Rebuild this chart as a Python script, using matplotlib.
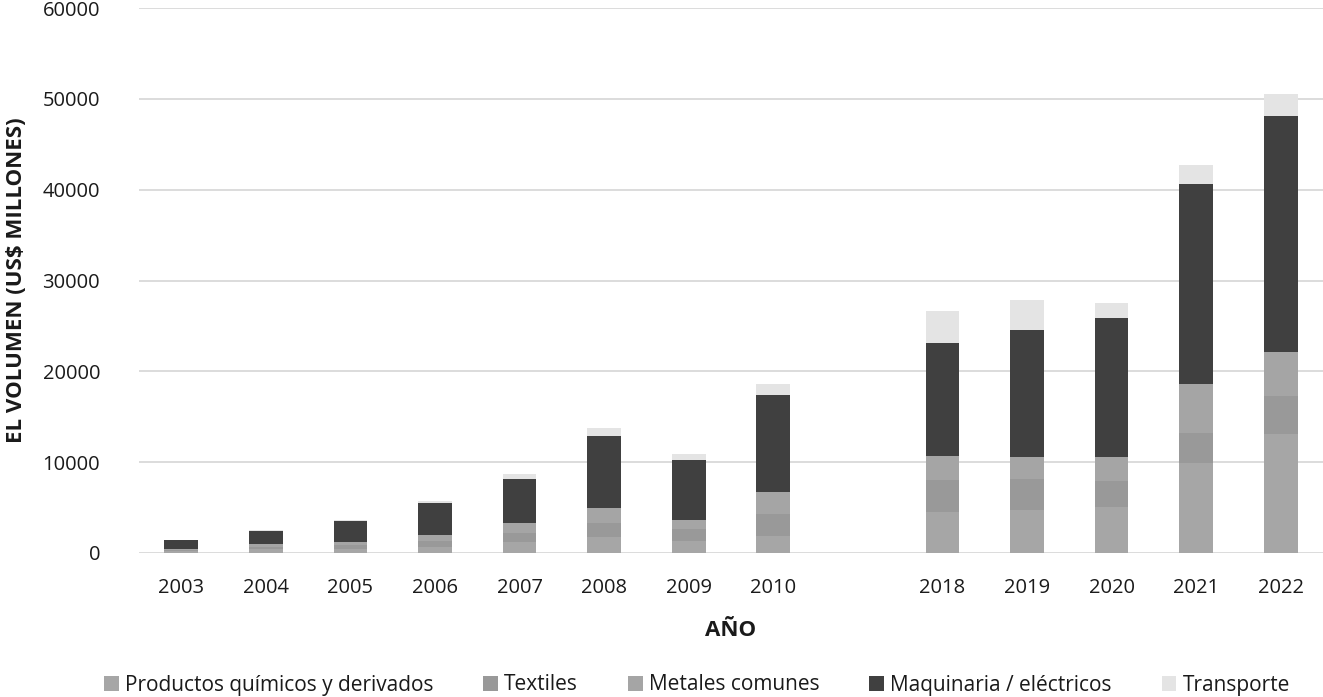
import numpy as np
import matplotlib.pyplot as plt

plt.rcParams['font.family'] = ['Open Sans', 'DejaVu Sans']

years = ['2003', '2004', '2005', '2006', '2007', '2008', '2009', '2010',
         '2018', '2019', '2020', '2021', '2022']
# one empty slot between 2010 and 2018
pos = np.array([0, 1, 2, 3, 4, 5, 6, 7, 9, 10, 11, 12, 13])

quimicos = [200, 400, 450, 700, 1170, 1760, 1280, 1830, 4530, 4700, 5080, 9890, 13090]
textiles = [130, 300, 400, 600, 1030, 1540, 1400, 2420, 3480, 3470, 2900, 3310, 4160]
metales = [140, 290, 360, 640, 1060, 1690, 990, 2470, 2650, 2430, 2540, 5380, 4830]
maquinaria = [920, 1390, 2270, 3570, 4920, 7850, 6570, 10630, 12410, 13900, 15340, 22080, 25980]
transporte = [60, 150, 190, 250, 520, 960, 660, 1290, 3560, 3350, 1660, 2090, 2470]

series = [
    ('Productos químicos y derivados', quimicos, '#a6a6a6'),
    ('Textiles', textiles, '#999999'),
    ('Metales comunes', metales, '#a5a5a5'),
    ('Maquinaria / eléctricos', maquinaria, '#404040'),
    ('Transporte', transporte, '#e4e4e4'),
]

fig = plt.figure(figsize=(13.23, 6.97), dpi=100)
ax = fig.add_axes([139 / 1323, 1 - 553 / 697, 1 - 139 / 1323, (553 - 8) / 697])

bottom = np.zeros(len(years))
for name, vals, col in series:
    ax.bar(pos, vals, width=0.4, bottom=bottom, color=col, label=name, zorder=3)
    bottom += np.array(vals)

ax.set_xlim(-0.5, 13.5)
ax.set_ylim(0, 60000)
ax.set_yticks(np.arange(0, 60001, 10000))
ax.set_xticks(pos)
ax.set_xticklabels(years)
ax.grid(axis='y', color='#d9d9d9', linewidth=1.3, zorder=0)
for s in ax.spines.values():
    s.set_visible(False)
ax.tick_params(length=0, labelsize=14.5, colors='#1a1a1a')
ax.tick_params(axis='x', pad=18)
ax.tick_params(axis='y', pad=28)

ax.set_xlabel('AÑO', fontsize=16, fontweight='bold', color='#1a1a1a', labelpad=16)
fig.text(17 / 1323, 1 - 280 / 697, 'EL VOLUMEN (US$ MILLONES)', rotation=90,
         fontsize=16, fontweight='bold', color='#1a1a1a', ha='center', va='center')

fig.legend(loc='center', bbox_to_anchor=(697 / 1323, 1 - 685 / 697), ncol=5,
           frameon=False, fontsize=15, handlelength=0.7, handleheight=0.7,
           handletextpad=0.3, columnspacing=2.4, labelcolor='#1a1a1a')

fig.savefig('out.png', dpi=100)
